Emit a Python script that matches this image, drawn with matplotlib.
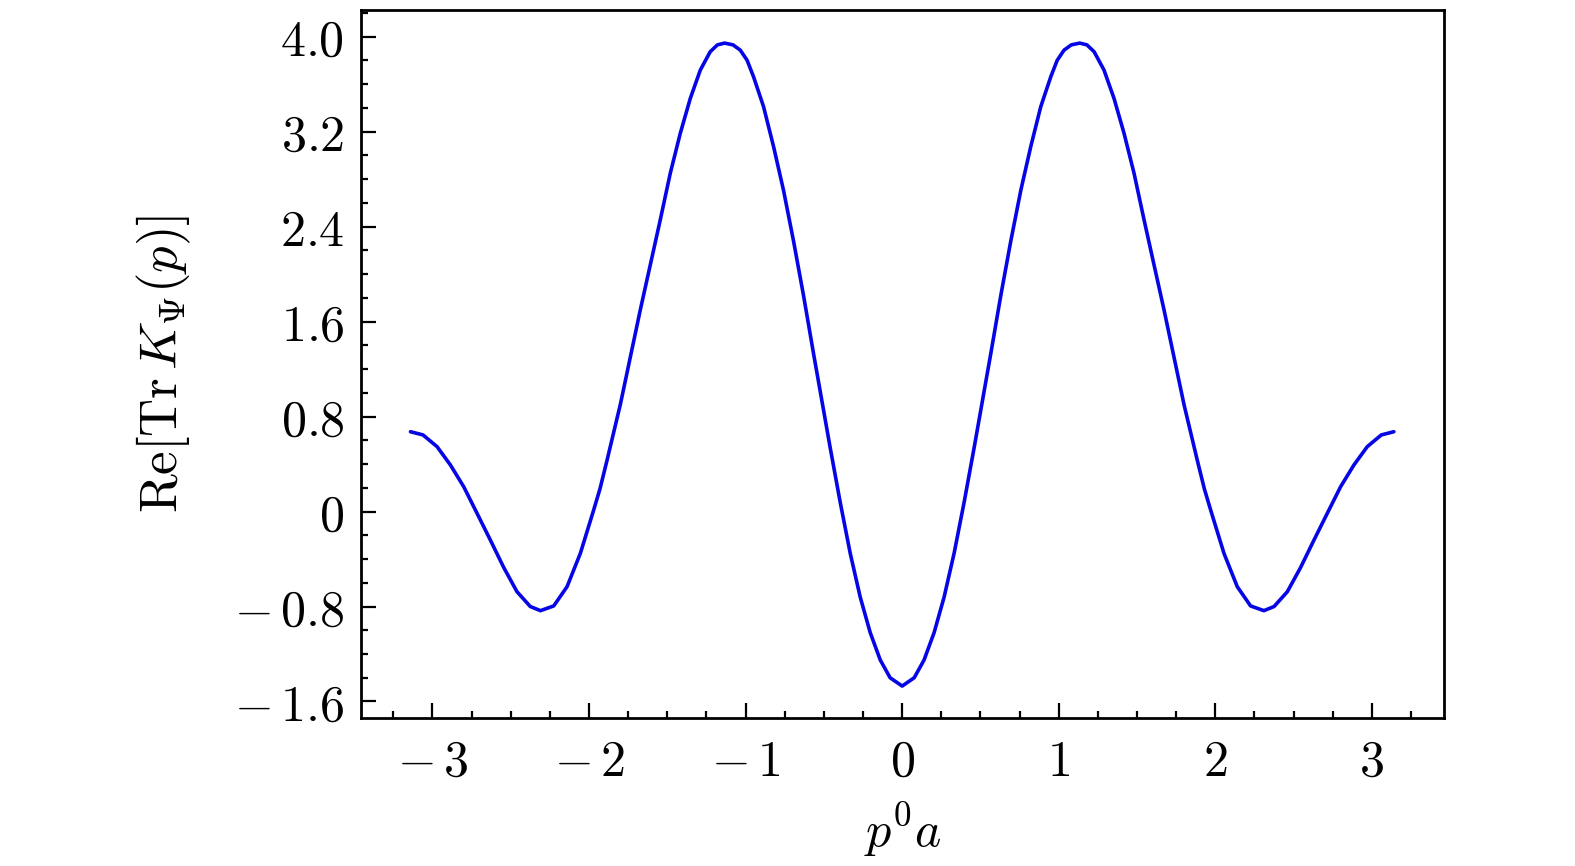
import matplotlib
matplotlib.use("Agg")
import matplotlib.pyplot as plt
from matplotlib.ticker import MultipleLocator

plt.rcParams['mathtext.fontset'] = 'cm'
plt.rcParams['font.family'] = ['DejaVu Serif']

# values
p0a = [-3.14, -3.06, -2.97, -2.885, -2.80, -2.715, -2.63, -2.545, -2.46, -2.375,
       -2.31, -2.225, -2.14, -2.055, -1.97, -1.93, -1.885, -1.80, -1.736, -1.672,
       -1.608, -1.545, -1.481, -1.417, -1.353, -1.289, -1.226, -1.18, -1.134, -1.08,
       -1.034, -0.99, -0.949, -0.885, -0.821, -0.758, -0.694, -0.630, -0.566, -0.523,
       -0.460, -0.396, -0.332, -0.268, -0.204, -0.140, -0.077, 0.0,
       0.077, 0.140, 0.204, 0.268, 0.332, 0.396, 0.460, 0.523, 0.566, 0.630,
       0.694, 0.758, 0.821, 0.885, 0.949, 0.99, 1.034, 1.08, 1.134, 1.18,
       1.226, 1.289, 1.353, 1.417, 1.481, 1.545, 1.608, 1.672, 1.736, 1.80,
       1.885, 1.93, 1.97, 2.055, 2.14, 2.225, 2.31, 2.375, 2.46, 2.545,
       2.63, 2.715, 2.80, 2.885, 2.97, 3.06, 3.14]
re_trK = [0.672, 0.645, 0.546, 0.392, 0.209, -0.015, -0.240, -0.470, -0.675, -0.800,
          -0.835, -0.795, -0.633, -0.352, 0.013, 0.19, 0.43, 0.90, 1.30, 1.70,
          2.08, 2.455, 2.848, 3.185, 3.479, 3.718, 3.872, 3.93, 3.945, 3.93,
          3.886, 3.80, 3.661, 3.409, 3.072, 2.707, 2.28, 1.82, 1.33, 1.01,
          0.54, 0.08, -0.35, -0.72, -1.02, -1.25, -1.40, -1.47,
          -1.40, -1.25, -1.02, -0.72, -0.35, 0.08, 0.54, 1.01, 1.33, 1.82,
          2.28, 2.707, 3.072, 3.409, 3.661, 3.80, 3.886, 3.93, 3.945, 3.93,
          3.872, 3.718, 3.479, 3.185, 2.848, 2.455, 2.08, 1.70, 1.30, 0.90,
          0.43, 0.19, 0.013, -0.352, -0.633, -0.795, -0.835, -0.800, -0.675, -0.470,
          -0.240, -0.015, 0.209, 0.392, 0.546, 0.645, 0.672]

xticks = [-3, -2, -1, 0, 1, 2, 3]
xticklabels = [r'$-\,3$', r'$-\,2$', r'$-\,1$', r'$0$', r'$1$', r'$2$', r'$3$']
yticks = [-1.6, -0.8, 0, 0.8, 1.6, 2.4, 3.2, 4.0]
yticklabels = [r'$-\,1.6$', r'$-\,0.8$', r'$0$', r'$0.8$', r'$1.6$', r'$2.4$', r'$3.2$', r'$4.0$']

fig = plt.figure(figsize=(15.75, 8.66), dpi=100)
ax = fig.add_axes([0.2292, 0.1709, 0.6876, 0.818])

ax.plot(p0a, re_trK, color='#0505e6', lw=2.6,
        solid_joinstyle='round', solid_capstyle='round')

ax.set_xlim(-3.456, 3.46)
ax.set_ylim(-1.739, 4.227)

ax.set_xticks(xticks)
ax.set_xticklabels(xticklabels)
ax.set_yticks(yticks)
ax.set_yticklabels(yticklabels)
ax.xaxis.set_minor_locator(MultipleLocator(0.25))
ax.yaxis.set_minor_locator(MultipleLocator(0.2))

for s in ax.spines.values():
    s.set_linewidth(2.0)
ax.tick_params(which='both', direction='in', top=False, right=False, width=1.6)
ax.tick_params(which='major', length=11, labelsize=36)
ax.tick_params(which='minor', length=5)
ax.tick_params(axis='y', which='major', pad=12)
ax.tick_params(axis='x', which='major', pad=14)

ax.set_xlabel(r'$p^0a$', fontsize=36, labelpad=10)
ax.set_ylabel(r'$\mathrm{Re}[\mathrm{Tr}\,K_{\Psi}(p)]$', fontsize=38, labelpad=30)

fig.savefig('out.png', dpi=100)
